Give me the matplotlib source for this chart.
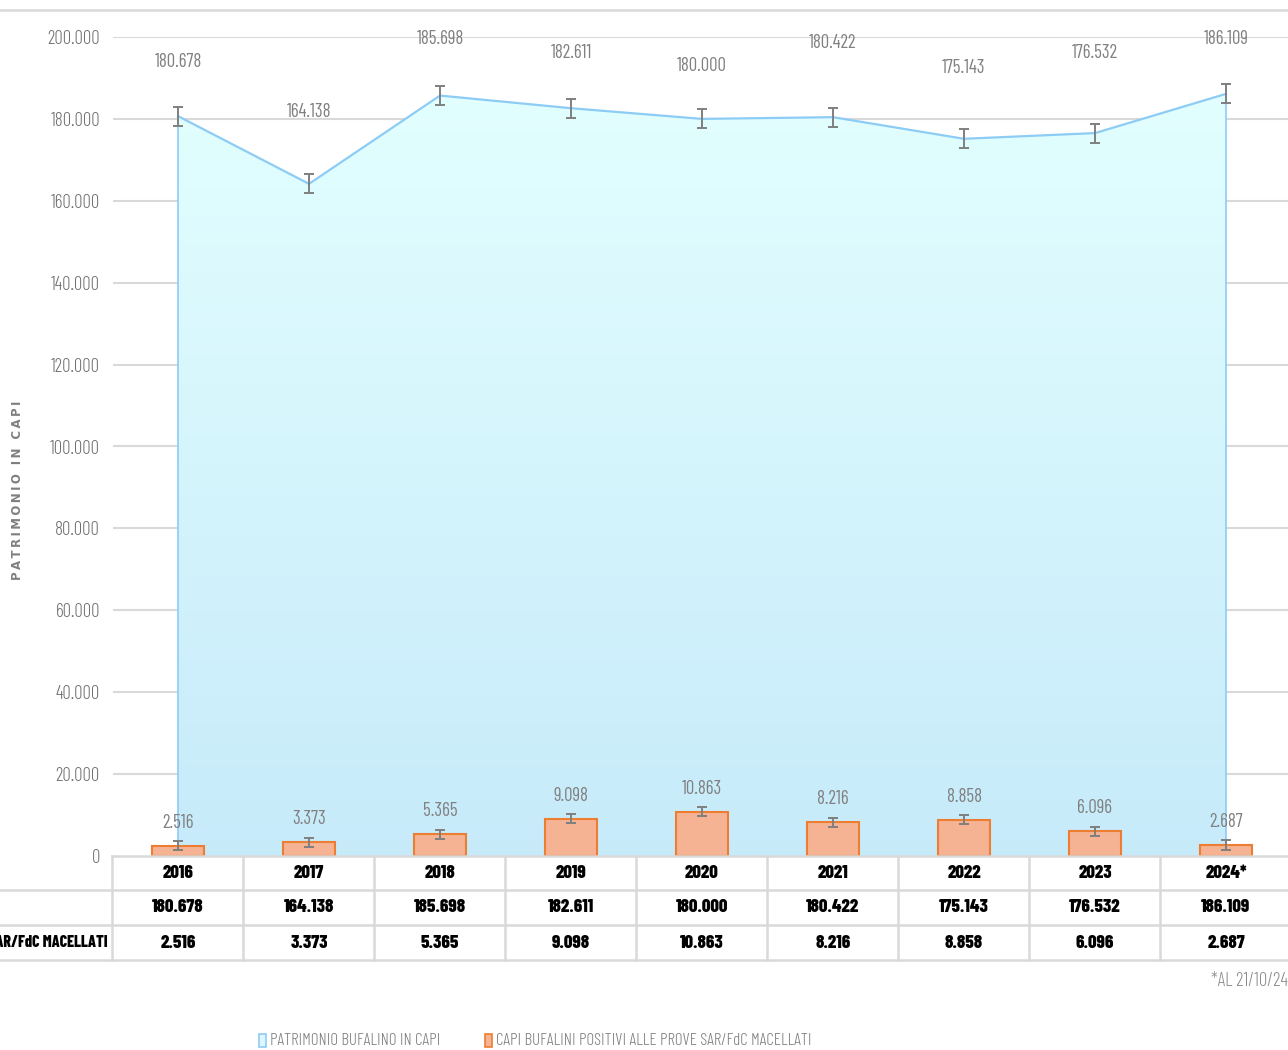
import matplotlib
matplotlib.use('Agg')
import matplotlib.pyplot as plt
import numpy as np
from matplotlib import font_manager as fm
from matplotlib.patches import Polygon, Rectangle

# ---------------- data ----------------
years = ['2016', '2017', '2018', '2019', '2020', '2021', '2022', '2023', '2024*']
patrimonio = [180678, 164138, 185698, 182611, 180000, 180422, 175143, 176532, 186109]
positivi = [2516, 3373, 5365, 9098, 10863, 8216, 8858, 6096, 2687]
yticks = [0, 20000, 40000, 60000, 80000, 100000, 120000, 140000, 160000, 180000, 200000]
patrimonio_err = 2300
positivi_err = 1100
series_names = ['PATRIMONIO BUFALINO IN CAPI',
                'CAPI BUFALINI POSITIVI ALLE PROVE SAR/FdC MACELLATI']
table_row_labels = ['', 'CAPI BUFALINI POSITIVI ALLE PROVE SAR/FdC MACELLATI']
y_label = 'PATRIMONIO IN CAPI'
footnote = '*AL 21/10/24'

# label offsets above each area point (pixels) - placement only
area_label_dy = [54, 72, 57, 55, 53, 74, 71, 80, 55]

# ---------------- fonts ----------------
names = {f.name for f in fm.fontManager.ttflist}
NARROW = ['Barlow Condensed', 'DejaVu Sans'] if 'Barlow Condensed' in names else ['DejaVu Sans']

def fmt(v):
    return f"{v:,}".replace(',', '.')

W, H = 1288, 1050
fig = plt.figure(figsize=(W / 100, H / 100), dpi=100)
fig.patch.set_facecolor('white')

LBL = dict(fontfamily=NARROW, fontsize=13.5, fontweight='normal', color='#808080')
TICK = dict(fontfamily=NARROW, fontsize=13.5, fontweight=300, color='#6F6F6F')
TBL = dict(fontfamily=NARROW, fontsize=13.5, fontweight=800, color='black')

# main axes in pixel geometry
left_px, right_px = 112.5, 112.5 + 131 * 9
top_px, bottom_px = 37, 856
ax = fig.add_axes([left_px / W, (H - bottom_px) / H, (right_px - left_px) / W, (bottom_px - top_px) / H])
ax.set_xlim(-0.5, 8.5)
ax.set_ylim(0, 200000)
for s in ax.spines.values():
    s.set_visible(False)
ax.set_xticks([])
ax.set_yticks(yticks)
ax.set_yticklabels([fmt(t) for t in yticks], **TICK)
ax.tick_params(axis='y', length=0, pad=9)
ax.set_facecolor('none')
for t in yticks[1:]:
    ax.axhline(t, color='#D9D9D9', lw=1.5, zorder=0)

x = np.arange(len(years))

# area with gradient
verts = [(x[0], 0)] + list(zip(x, patrimonio)) + [(x[-1], 0)]
poly = Polygon(verts, closed=True, facecolor='none', edgecolor='none')
ax.add_patch(poly)
grad = np.linspace(0, 1, 256).reshape(-1, 1)
c_top = np.array([0.89, 1.00, 1.00])
c_bot = np.array([0.78, 0.92, 0.98])
img = c_bot[None, None, :] * (1 - grad[:, :, None]) + c_top[None, None, :] * grad[:, :, None]
im = ax.imshow(img, extent=[-0.5, 8.5, 0, 190000], origin='lower', aspect='auto', zorder=1)
im.set_clip_path(poly)
ax.plot(x, patrimonio, color='#8DCCF5', lw=1.6, zorder=2)
ax.plot([x[0], x[0]], [0, patrimonio[0]], color='#8DCCF5', lw=1.2, zorder=2)
ax.plot([x[-1], x[-1]], [0, patrimonio[-1]], color='#8DCCF5', lw=1.2, zorder=2)
ax.errorbar(x, patrimonio, yerr=patrimonio_err, fmt='none', ecolor='#7F7F7F',
            elinewidth=1.4, capsize=3.5, capthick=1.4, zorder=3)

# bars
ax.bar(x, positivi, width=0.4, color='#F6B394', edgecolor='#ED7D31', linewidth=1.5, zorder=4)
ax.errorbar(x, positivi, yerr=positivi_err, fmt='none', ecolor='#7F7F7F',
            elinewidth=1.4, capsize=3.5, capthick=1.4, zorder=5)

# data labels
for xi, v, dy in zip(x, patrimonio, area_label_dy):
    ax.annotate(fmt(v), (xi, v), xytext=(0, dy * 0.72), textcoords='offset points',
                ha='center', va='center', zorder=6, **LBL)
for xi, v in zip(x, positivi):
    ax.annotate(fmt(v), (xi, v), xytext=(0, 23 * 0.72), textcoords='offset points',
                ha='center', va='center', zorder=6, **LBL)

# overlay axes in pixel coordinates for table / legend / decorations
ov = fig.add_axes([0, 0, 1, 1])
ov.set_xlim(0, W)
ov.set_ylim(H, 0)
ov.axis('off')
ov.patch.set_alpha(0)

gcol = '#D9D9D9'
ov.plot([0, W], [10, 10], color=gcol, lw=1.8)
ov.plot([left_px, W], [856, 856], color=gcol, lw=1.8)
for yy in (890, 925, 960):
    ov.plot([0, W], [yy, yy], color=gcol, lw=1.8)
for k in range(10):
    xx = left_px + 131 * k
    ov.plot([xx, xx], [856, 960], color=gcol, lw=1.8)

centers = [left_px + 131 * (i + 0.5) for i in range(len(years))]
for cx, yr, p, q in zip(centers, years, patrimonio, positivi):
    ov.text(cx, 873, yr, ha='center', va='center', **TBL)
    ov.text(cx, 907.5, fmt(p), ha='center', va='center', **TBL)
    ov.text(cx, 942.5, fmt(q), ha='center', va='center', **TBL)
ov.text(108, 907.5, table_row_labels[0], ha='right', va='center', **TBL)
ov.text(108, 942.5, table_row_labels[1], ha='right', va='center',
        **{**TBL, 'fontsize': 11.5})

# y label (letter-spaced)
spaced = '\u2009'.join(y_label)
ov.text(18, 490, spaced, rotation=90, ha='center', va='center', fontfamily='DejaVu Sans',
        fontweight='bold', fontsize=8.5, color='#7F7F7F')

# footnote
ov.text(1288, 981, footnote, ha='right', va='center', fontfamily=NARROW, fontsize=13.5,
        fontweight=300, color='#8C8C8C')

# legend
LEG = dict(fontfamily=NARROW, fontsize=12.2, fontweight=300, color='#7F7F7F')
ov.add_patch(Rectangle((259, 1034), 7, 13, facecolor='#DDF6FF', edgecolor='#8DCCF5', lw=1.2))
ov.text(270, 1041, series_names[0], ha='left', va='center', **LEG)
ov.add_patch(Rectangle((485, 1034), 7, 13, facecolor='#F6B394', edgecolor='#ED7D31', lw=1.2))
ov.text(496, 1041, series_names[1], ha='left', va='center', **LEG)

fig.savefig('out.png', dpi=100)
